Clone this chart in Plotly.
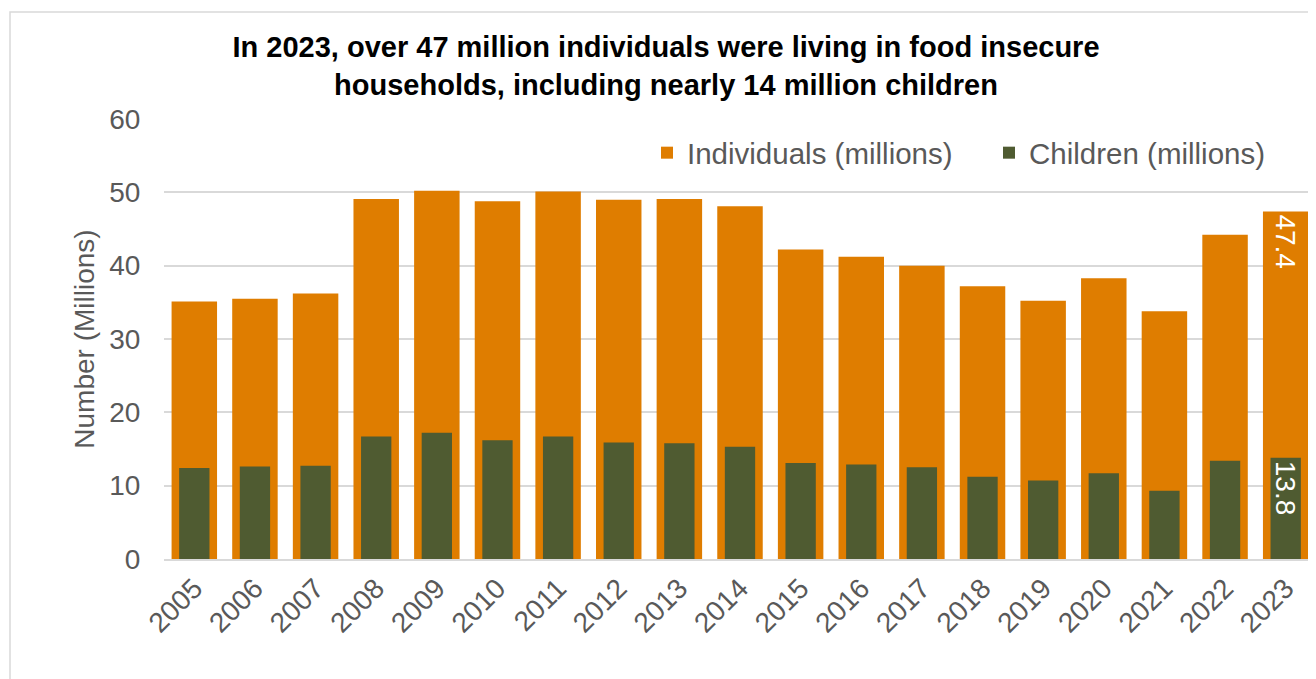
import plotly.graph_objects as go

years = ["2005", "2006", "2007", "2008", "2009", "2010", "2011", "2012", "2013", "2014",
         "2015", "2016", "2017", "2018", "2019", "2020", "2021", "2022", "2023"]
individuals = [35.1, 35.5, 36.2, 49.1, 50.2, 48.8, 50.1, 49.0, 49.1, 48.1,
               42.2, 41.2, 40.0, 37.2, 35.2, 38.3, 33.8, 44.2, 47.4]
children = [12.4, 12.6, 12.7, 16.7, 17.2, 16.2, 16.7, 15.9, 15.8, 15.3,
            13.1, 12.9, 12.5, 11.2, 10.7, 11.7, 9.3, 13.4, 13.8]
labeled_year = "2023"

ORANGE = "#DF7D00"
GREEN = "#4F5B31"
GRAY = "#595959"
GRID = "#D9D9D9"
FONT = "Liberation Sans, Arial, sans-serif"

ind_text = [f"{v:.1f}" if y == labeled_year else "" for y, v in zip(years, individuals)]
chi_text = [f"{v:.1f}" if y == labeled_year else "" for y, v in zip(years, children)]

fig = go.Figure()
fig.add_trace(go.Bar(
    x=years, y=individuals, name="Individuals (millions)",
    marker=dict(color=ORANGE, line=dict(width=0)), width=0.75,
    text=ind_text, textposition="inside", insidetextanchor="end",
    textangle=90, constraintext="none",
    textfont=dict(color="white", size=28, family=FONT),
))
fig.add_trace(go.Bar(
    x=years, y=children, name="Children (millions)",
    marker=dict(color=GREEN, line=dict(width=0)), width=0.5,
    text=chi_text, textposition="inside", insidetextanchor="end",
    textangle=90, constraintext="none",
    textfont=dict(color="white", size=28, family=FONT),
))

# page offset of the figure (body margin) and plot area in page pixels
OFF = 8
W, H = 1316 - OFF, 679 - OFF
P_L, P_R, P_T, P_B = 164, 1316, 119, 559
ML = P_L - OFF
MR = W - (P_R - OFF)
MT = P_T - OFF
MB = H - (P_B - OFF)
pw = P_R - P_L
ph = P_B - P_T


def px_x(p):
    return (p - P_L) / pw


def px_y(p):
    return (P_B - p) / ph


fig.update_layout(
    width=W, height=H,
    margin=dict(l=ML, r=MR, t=MT, b=MB, autoexpand=False),
    barmode="overlay",
    paper_bgcolor="white", plot_bgcolor="white",
    font=dict(family=FONT, size=28, color=GRAY),
    title=dict(
        text="<b>In 2023, over 47 million individuals were living in food insecure<br>households, including nearly 14 million children</b>",
        x=(666 - OFF) / W, xanchor="center", xref="container",
        y=1 - 49 / H, yanchor="top", yref="container",
        font=dict(family=FONT, size=29, color="black"),
    ),
    legend=dict(
        orientation="h", x=px_x(647), xanchor="left",
        y=px_y(153), yanchor="middle",
        font=dict(family=FONT, size=29.5, color=GRAY),
        bgcolor="rgba(0,0,0,0)", itemwidth=30,
        entrywidth=297, entrywidthmode="pixels",
        traceorder="normal",
    ),
    xaxis=dict(
        type="category", range=[-0.5, 18.5],
        tickangle=-45, tickfont=dict(size=28, color=GRAY, family=FONT),
        showline=True, linecolor=GRID, linewidth=1.5,
        ticks="", showgrid=False,
    ),
    yaxis=dict(
        range=[0, 60], dtick=10, tick0=0,
        showgrid=True, gridcolor=GRID, gridwidth=1.5,
        zeroline=False,
        tickfont=dict(size=28, color=GRAY, family=FONT),
        ticks="outside", ticklen=17, tickcolor="rgba(0,0,0,0)",
        title=dict(text="Number (Millions)", font=dict(size=28, color=GRAY, family=FONT), standoff=6),
    ),
    showlegend=True,
)

fig.add_shape(
    type="rect", xref="paper", yref="paper",
    x0=px_x(10), x1=px_x(1316 + 50), y0=px_y(679 + 50), y1=px_y(12),
    line=dict(color=GRID, width=1.5), fillcolor="rgba(0,0,0,0)", layer="below",
)

fig.write_html("out.html")
